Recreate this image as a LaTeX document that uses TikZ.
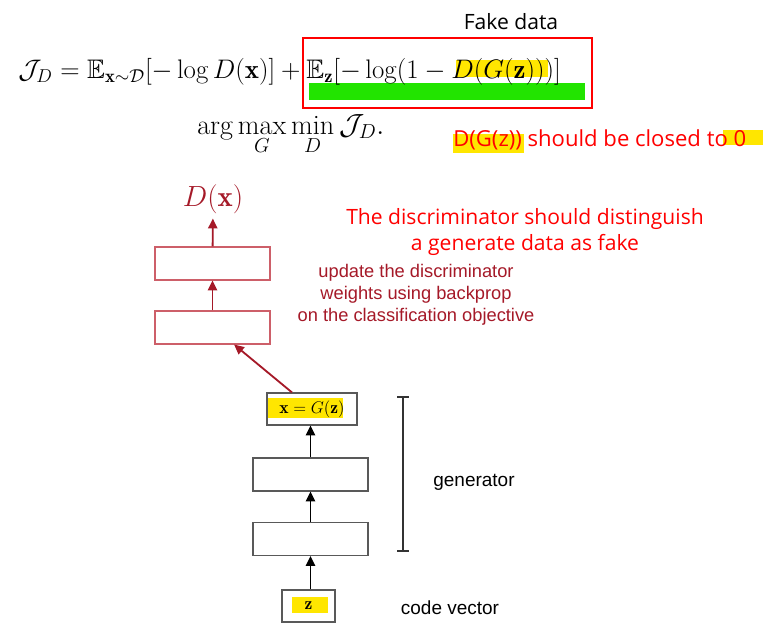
\documentclass[tikz,border=0pt]{standalone}
\usepackage{amsmath,amssymb}
\usepackage{fontspec}
\setsansfont{Liberation Sans}
\newfontfamily\notefont{Open Sans}
\usetikzlibrary{arrows.meta,positioning}

\definecolor{discred}{RGB}{165,25,40}
\definecolor{boxred}{RGB}{205,95,105}
\definecolor{hlyellow}{RGB}{255,230,0}
\definecolor{bargreen}{RGB}{34,228,0}
\definecolor{notered}{RGB}{255,0,0}

\begin{document}
\begin{tikzpicture}[x=0.025cm,y=-0.025cm,
    layer/.style={draw=boxred, line width=0.8pt, minimum width=2.875cm, minimum height=0.825cm, inner sep=0pt},
    genlayer/.style={draw=black!65, line width=0.8pt, minimum width=2.875cm, minimum height=0.825cm, inner sep=0pt},
    darrow/.style={draw=discred, line width=1.3pt, -{Triangle[length=7pt,width=6.5pt]}},
    garrow/.style={draw=black, line width=1.3pt, -{Triangle[length=7pt,width=6.5pt]}}]
  \useasboundingbox (0,0) rectangle (770,640);

  % Highlights and marks behind the formulas
  \fill[hlyellow] (456,60) rectangle (548,77);
  \fill[bargreen] (309,83) rectangle (585,100);
  \draw[notered, line width=0.8pt] (303,38) rectangle (592,108);
  \fill[hlyellow] (453,134) rectangle (524,153);
  \fill[hlyellow] (723,130) rectangle (763,145);

  % Objective
  \node[anchor=base west, inner sep=0pt, scale=1.104, font=\fontsize{17.28}{20}\selectfont] (jd) at (18,78)
    {$\mathcal{J}_D = \mathbb{E}_{\mathbf{x}\sim\mathcal{D}}[-\log D(\mathbf{x})] + \mathbb{E}_{\mathbf{z}}[-\log(1 - D(G(\mathbf{z})))]$};
  \node[anchor=base west, inner sep=0pt, font=\fontsize{20}{23}\selectfont] (minmax) at (197,134)
    {$\displaystyle\arg\max_G \min_D \mathcal{J}_D.$};
  \node[font=\notefont\fontsize{15}{18}\selectfont] (fake) at (511,22) {Fake data};
  \node[anchor=west, inner sep=0pt, text=notered, font=\notefont\fontsize{15.7}{18}\selectfont] (closenote) at (453,140)
    {D(G(z)) should be closed to 0};

  % Discriminator
  \node[text=discred, font=\fontsize{20.5}{24}\selectfont] (dx) at (213,199) {$D(\mathbf{x})$};
  \node[layer] (d1) at (212.5,263.5) {};
  \node[layer] (d2) at (212.5,327.5) {};
  \draw[darrow] (d1) -- (dx);
  \draw[darrow] (d2) -- (d1);
  \node[align=center, text=notered, font=\notefont\fontsize{15}{17.8}\selectfont] (distnote) at (525,232)
    {The discriminator should distinguish\\a generate data as fake};
  \node[align=center, text=discred, font=\sffamily\fontsize{13}{15.6}\selectfont] (update) at (416,295)
    {update the discriminator\\weights using backprop\\on the classification objective};

  % Generator
  \fill[hlyellow] (267,398) rectangle (343,418);
  \fill[hlyellow] (292,597) rectangle (328,613);
  \node[genlayer, minimum width=2.25cm, minimum height=0.8cm, font=\fontsize{12.5}{14}\selectfont] (g1) at (312,409) {$\mathbf{x} = G(\mathbf{z})$};
  \node[genlayer] (g2) at (310.5,474.5) {};
  \node[genlayer] (g3) at (310.5,539) {};
  \node[genlayer, minimum width=1.325cm, minimum height=0.8cm, font=\fontsize{12.5}{14}\selectfont] (zin) at (308.5,606) {$\mathbf{z}$};
  \draw[garrow] (zin.north -| g3) -- (g3.south);
  \draw[garrow] (g3) -- (g2);
  \draw[garrow] (g2.north) -- (g2.north |- g1.south);
  \draw[darrow] ([xshift=-0.5cm]g1.north) -- ([xshift=0.54cm]d2.south);

  \coordinate (gtop) at (403,396);
  \coordinate (gbot) at (403,552);
  \draw[black!80, line width=1.2pt, {Bar[width=8pt]}-{Bar[width=8pt]}] (gtop) -- (gbot);
  \node[font=\sffamily\fontsize{13.5}{16}\selectfont] (genlabel) at (474,482) {generator};
  \node[font=\sffamily\fontsize{13.5}{16}\selectfont] (codelabel) at (450,608) {code vector};
\end{tikzpicture}
\end{document}
